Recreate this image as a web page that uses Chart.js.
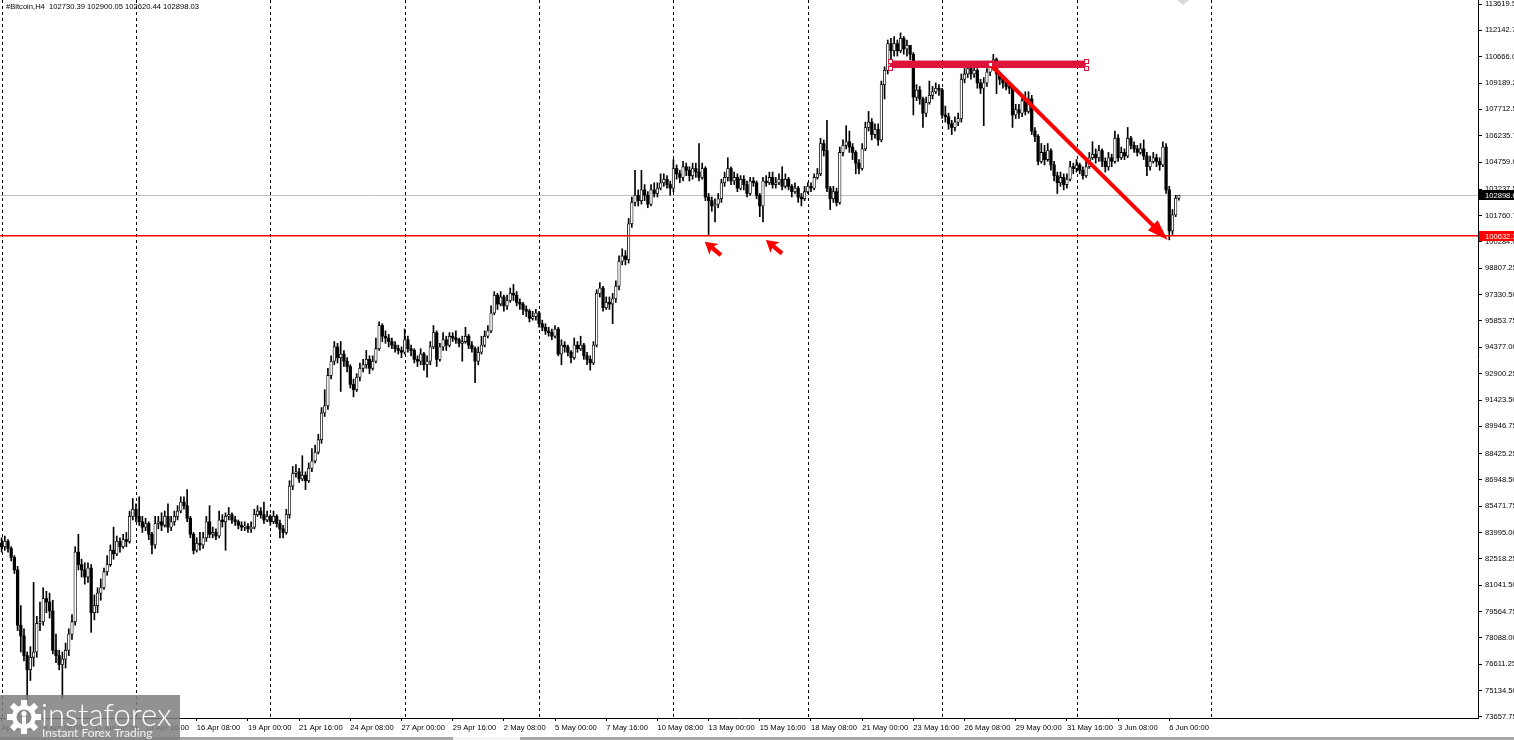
<!DOCTYPE html>
<html><head><meta charset="utf-8">
<script src="https://cdn.jsdelivr.net/npm/chart.js@4.4.1/dist/chart.umd.min.js"></script>
<style>html,body{margin:0;padding:0;background:#fff;overflow:hidden}canvas{display:block}</style>
</head><body>
<canvas id="c" width="1514" height="740"></canvas>
<script>
// ---- data (H4 candles) ----
const symbolTitle = '#Bitcoin,H4';
const firstOpen = 83400;
const closes = [
83200,83500,83100,82600,81900,78800,78200,77100,76300,77000,
77300,78900,79000,80300,80100,79600,77400,77100,76600,76900,
77400,78300,79000,82900,82200,81900,81500,82000,79500,79900,
80600,80900,81800,82200,83000,82800,83500,83200,83600,83500,
84900,85300,84900,84600,84300,84500,83900,83300,84500,84600,
84400,84900,84300,84600,84900,85200,85700,85500,84800,83900,
83000,83400,83300,83700,84600,83900,84000,83800,84700,84600,
84900,85000,84700,84600,84400,84300,84350,84200,84300,85000,
85200,85000,84700,84900,84600,84900,84500,84200,84000,85000,
86600,87300,87400,87000,87200,86900,87600,88000,88500,89200,
90700,91100,92800,93600,94400,93800,94000,93600,93300,92300,
92000,92700,93200,93400,93700,93200,93600,94300,95600,95000,
94900,94700,94500,94300,94200,94100,94800,94300,94200,93700,
93600,94000,93400,93600,94400,95200,93700,94400,94800,94500,
95000,94900,94800,94600,94700,95000,94500,94300,93600,94100,
94500,95000,95300,96300,97300,96800,97200,96700,97000,97400,
97300,96900,96800,96500,96400,96000,96100,96300,95700,95500,
95300,95200,95000,95400,94000,94500,94400,94100,93800,94500,
94300,94500,93900,93700,93500,94500,97400,97700,96600,96900,
96800,97100,97800,99200,99500,99300,101300,102500,102900,102600,
103200,102900,102400,103200,103000,103300,103600,103800,103500,103300,
104400,104100,103900,104500,104300,104000,104400,104200,103900,104400,
102800,102600,102300,102400,102700,103600,103900,104400,103700,103900,
103300,103800,103500,103000,103700,103600,102900,102300,103700,103600,
103900,103500,103600,103800,103400,103800,103400,103100,103300,102800,
102700,103100,103400,103300,103900,104100,105800,105400,103300,102700,
103100,102500,105300,105700,105900,105600,105300,104700,104400,105500,
106700,107000,106300,106600,106000,109100,109900,111400,111000,111400,
111000,111700,111100,111300,110800,108400,108800,108300,107500,108100,
108500,108700,108900,108800,107400,107300,106900,106700,107000,107200,
109400,109700,110000,109700,109900,109200,108900,109200,109800,110100,
110500,109700,109400,109200,109000,108900,107400,107700,107500,108200,
107600,108300,106500,106200,104800,105300,104900,105400,104600,104000,
103600,103900,103500,103800,104500,104400,104600,104300,104000,104500,
105000,105200,105000,105400,104800,104500,105000,104800,106100,105000,
105300,105100,106100,105700,105500,105300,105500,105100,104500,104800,
105000,104800,104600,105600,103200,100900,101800,102730.39,102898.03
];
const highs = [
83700,83800,83600,83200,82700,82100,79900,78600,77300,77600,
81200,79300,80100,80900,80700,80600,80200,78300,77400,77300,
77800,78600,79400,83200,83900,82500,82300,82300,82200,80500,
80900,81400,82000,82700,83300,84300,83800,83700,83900,84000,
85200,85900,85600,86000,84900,84800,84600,84000,84900,84900,
85100,85200,85600,84900,85200,85500,86000,86000,86400,84900,
84000,83700,84000,84000,84900,85500,84300,84200,85200,85000,
85100,85400,85100,84900,84700,84600,84600,84500,84600,85300,
85500,85400,85700,85200,85000,85200,85000,84700,84400,85300,
86900,87700,87800,87600,88300,87400,87900,88700,88900,89500,
91000,92000,93200,93900,94700,94600,94700,94200,93800,93400,
92600,92900,93500,93700,94200,93900,93900,94900,95800,95700,
95300,95100,94900,94700,94500,94400,95400,95000,94500,94300,
93900,94300,94100,93900,94700,95600,95300,94600,95200,95000,
95200,95200,95300,94900,95000,95500,95100,94700,94400,94400,
95000,95300,95600,96700,97500,97400,97500,97300,97300,97700,
97900,97500,97100,96900,96700,96500,96400,96500,96400,95900,
95700,95500,95400,95600,95500,94800,94700,94500,94200,94900,
94700,95000,94600,94100,93900,94700,97600,98000,97800,97200,
97200,97400,98100,99500,99900,99800,101600,102800,104300,103200,
104300,103500,103100,103500,103600,103600,104100,104100,104000,103700,
104900,104600,104300,104800,104700,104500,104700,104700,105800,104700,
104500,103000,102800,102700,103000,103800,104200,105000,104500,104200,
104100,104000,104000,103700,103900,103900,103700,103000,103900,104000,
104200,104200,103900,104100,104500,104100,103900,103500,103600,103400,
103000,103400,103600,103600,104100,104400,106100,106000,107100,103400,
103400,103300,105600,106000,106800,106500,105800,105400,104900,105800,
107000,107600,107200,106900,106900,109300,110100,111600,111700,111800,
111600,112000,111800,111600,111300,110900,109100,109000,108400,108400,
109300,109000,109200,109100,108900,107900,107500,107100,107300,107500,
109700,110000,110300,110200,110400,110000,109400,109500,110000,110400,
110800,110600,109800,109600,109400,109200,109100,108000,108000,108500,
108700,108700,108500,106700,106300,105800,105700,105800,105500,104800,
104200,104200,104100,104100,104800,104700,104900,104700,104500,104800,
105300,105900,105500,105700,105500,105000,105300,105200,106500,106300,
105600,105500,106700,106200,105900,105700,105800,106000,105300,105100,
105300,105200,105000,105900,105800,103400,102100,102900,102900.05
];
const lows = [
82900,83000,82900,82400,81700,78500,77300,76800,74600,75700,
76500,77000,78500,78800,79500,79200,77200,76700,76300,74700,
76400,77100,78000,78800,81900,81500,81100,81200,78400,79100,
79500,80200,80800,81600,82100,82500,82700,82900,83100,83200,
83400,84700,84600,84400,84000,84100,83600,82800,83100,84200,
84100,84300,84000,84100,84400,84700,85100,85300,84600,83700,
82800,82900,83000,83100,83500,83700,83700,83600,83700,84300,
83000,84700,84500,84400,84200,84100,84100,84000,84000,84200,
84900,84800,84500,84600,84400,84500,84300,83700,83700,83900,
84800,86400,87100,86800,86900,86400,86800,87400,87900,88400,
89000,90500,90900,92600,93400,93500,91900,93300,93000,92100,
91600,91900,92500,93000,93200,92900,93100,93500,94200,94700,
94600,94400,94300,94100,94000,93800,94000,94100,93900,93500,
93300,93400,93100,92700,93400,94300,93300,93600,94200,94200,
94400,94700,94600,94400,93600,94600,94300,94100,92400,93400,
94000,94400,94900,95200,96200,96500,96700,96400,96500,96900,
97000,96700,96500,96200,96100,95800,95900,95900,95500,95300,
95100,95000,94800,94900,93900,93400,94100,93900,93500,93700,
94100,94200,93700,93400,93100,93400,94400,97200,96400,96500,
96500,95700,96900,97600,99000,99000,99100,101100,102300,102300,
102400,102600,102200,102300,102800,102800,103200,103400,103300,102900,
103100,103800,103600,103700,104000,103700,103800,103900,103700,103800,
102600,100700,102000,101400,102200,102500,103400,103700,103500,103500,
103100,103200,103200,102800,102900,103400,102700,101700,101400,103400,
103500,103300,103300,103500,103200,103300,103200,102800,103000,102500,
102300,102600,103000,103100,103200,103800,104000,105100,103100,102100,
102500,102300,102400,105100,105500,105300,104900,104100,104100,104300,
105400,106500,106000,106100,105700,105900,108300,109700,110400,110700,
110700,110900,110800,110700,110500,107400,108200,108000,106700,107300,
108000,108300,108600,108500,107200,107000,106600,106300,106500,106800,
107000,109200,109500,109400,109500,108900,108600,106800,109000,109600,
109900,108600,109100,108900,108800,108600,106700,107200,107200,107300,
107400,107500,106300,105900,104600,104700,104600,104800,104300,103700,
103000,103400,103200,103300,103700,104100,104200,104100,103800,103900,
104400,104900,104700,104800,104500,104200,104300,104500,104700,104800,
104900,104900,105000,105500,105300,105100,105200,104900,104000,104300,
104700,104500,104300,104500,103000,100400,100700,101700,102620.44
];
const xTickIdx = [0,13,29,45,61,77,93,109,125,141,157,173,189,205,221,237,253,269,285,301,317,333,349,365];
const xTickText = ["Apr 2025","8 Apr 08:00","11 Apr 00:00","13 Apr 16:00","16 Apr 08:00","19 Apr 00:00","21 Apr 16:00","24 Apr 08:00","27 Apr 00:00","29 Apr 16:00","2 May 08:00","5 May 00:00","7 May 16:00","10 May 08:00","13 May 00:00","15 May 16:00","18 May 08:00","21 May 00:00","23 May 16:00","26 May 08:00","29 May 00:00","31 May 16:00","3 Jun 08:00","6 Jun 00:00"];
const yTickVals = [113619.5,112142.75,110666,109189.25,107712.5,106235.75,104759,103237.5,101760.75,100284,98807.25,97330.5,95853.75,94377,92900.25,91423.5,89946.75,88425.25,86948.5,85471.75,83995,82518.25,81041.5,79564.75,78088,76611.25,75134.5,73657.75];
const yTickText = ["113619.50","112142.75","110666.00","109189.25","107712.50","106235.75","104759.00","103237.50","101760.75","100284.00","98807.25","97330.50","95853.75","94377.00","92900.25","91423.50","89946.75","88425.25","86948.50","85471.75","83995.00","82518.25","81041.50","79564.75","78088.00","76611.25","75134.50","73657.75"];
const gridIdx = [0,42,84,126,168,210,252,294,336,378];
const bidPrice = 102898.03;
const supportPrice = 100632.3;
const supportText = "100632.30";
const bidText = "102898.03";
// drawn objects (anchored to bar index / price)
const zoneRect = {i0: 277.6, i1: 338.9, pTop: 110450, pBot: 110030};
const trendArrow = {i0: 308.9, p0: 110257, i1: 364.5, p1: 100392};
const pointerMarks = [{i: 219.8, p: 100300}, {i: 238.9, p: 100390}];

// ---- chart build ----
const SLOTS = 462;
const t0 = Date.UTC(2025, 3, 6, 4);
const MON = ['Jan','Feb','Mar','Apr','May','Jun','Jul','Aug','Sep','Oct','Nov','Dec'];
const categories = Array.from({length: SLOTS}, (_, i) => {
  const d = new Date(t0 + i * 4 * 3600000);
  return d.getUTCDate() + ' ' + MON[d.getUTCMonth()] + ' ' + String(d.getUTCHours()).padStart(2,'0') + ':00';
});
const opens = closes.map((c, i) => i === 0 ? firstOpen : closes[i - 1]);
const nBars = closes.length;
const bodyData = categories.map((_, i) => i < nBars ? [opens[i], closes[i]] : null);
const wickData = categories.map((_, i) => i < nBars ? [Math.min(lows[i], opens[i], closes[i]), Math.max(highs[i], opens[i], closes[i])] : null);
const bodyFill = categories.map((_, i) => i < nBars && closes[i] >= opens[i] ? '#ffffff' : '#000000');
const bodyBorder = categories.map((_, i) => i < nBars && closes[i] >= opens[i] ? 0.8 : 0);

const FONT = {family: 'Liberation Sans', size: 7.6};

const overlay = {
  id: 'overlay',
  beforeDatasetsDraw(chart) {
    const {ctx, chartArea: a, scales: {x, y}} = chart;
    ctx.save();
    ctx.strokeStyle = '#000'; ctx.lineWidth = 1; ctx.setLineDash([3, 3]);
    gridIdx.forEach(i => {
      const px = Math.round(x.getPixelForValue(i)) + 0.5;
      ctx.beginPath(); ctx.moveTo(px, a.top); ctx.lineTo(px, a.bottom); ctx.stroke();
    });
    ctx.setLineDash([]);
    const by = Math.round(y.getPixelForValue(bidPrice)) + 0.5;
    ctx.strokeStyle = '#c0c0c0';
    ctx.beginPath(); ctx.moveTo(a.left, by); ctx.lineTo(a.right, by); ctx.stroke();
    ctx.restore();
  },
  afterDatasetsDraw(chart) {
    const {ctx, chartArea: a, scales: {x, y}} = chart;
    ctx.save();
    ctx.beginPath(); ctx.rect(a.left, a.top, a.right - a.left, a.bottom - a.top); ctx.clip();
    // support line
    const sy = y.getPixelForValue(supportPrice);
    ctx.strokeStyle = '#ff0000'; ctx.lineWidth = 1.6;
    ctx.beginPath(); ctx.moveTo(a.left, sy); ctx.lineTo(a.right, sy); ctx.stroke();
    // zone rectangle
    const rx0 = x.getPixelForValue(zoneRect.i0), rx1 = x.getPixelForValue(zoneRect.i1);
    const ry0 = y.getPixelForValue(zoneRect.pTop), ry1 = y.getPixelForValue(zoneRect.pBot);
    ctx.fillStyle = '#dc143c';
    ctx.fillRect(rx0, ry0, rx1 - rx0, ry1 - ry0);
    ctx.fillStyle = '#fff'; ctx.strokeStyle = '#dc143c'; ctx.lineWidth = 1;
    [[rx0, ry0], [rx0, ry1], [rx1, ry0], [rx1, ry1]].forEach(([hx, hy]) => {
      ctx.fillRect(Math.round(hx) - 1.5, Math.round(hy) - 1.5, 4, 4);
      ctx.strokeRect(Math.round(hx) - 1.5, Math.round(hy) - 1.5, 4, 4);
    });
    // trend arrow
    const x0 = x.getPixelForValue(trendArrow.i0), y0 = y.getPixelForValue(trendArrow.p0);
    const x1 = x.getPixelForValue(trendArrow.i1), y1 = y.getPixelForValue(trendArrow.p1);
    const ang = Math.atan2(y1 - y0, x1 - x0), L = 21, W = 7;
    const bx = x1 - L * Math.cos(ang), bY = y1 - L * Math.sin(ang);
    ctx.strokeStyle = '#ff0000'; ctx.lineWidth = 4; ctx.lineCap = 'butt';
    ctx.beginPath(); ctx.moveTo(x0, y0); ctx.lineTo(bx + 2 * Math.cos(ang), bY + 2 * Math.sin(ang)); ctx.stroke();
    ctx.fillStyle = '#ff0000';
    ctx.beginPath(); ctx.moveTo(x1, y1);
    ctx.lineTo(bx + W * Math.sin(ang), bY - W * Math.cos(ang));
    ctx.lineTo(bx - W * Math.sin(ang), bY + W * Math.cos(ang));
    ctx.closePath(); ctx.fill();
    // start handle
    ctx.fillStyle = '#fff'; ctx.strokeStyle = '#dc143c'; ctx.lineWidth = 1;
    ctx.fillRect(Math.round(x0) - 1.5, Math.round(y0) - 1.5, 4, 4);
    ctx.strokeRect(Math.round(x0) - 1.5, Math.round(y0) - 1.5, 4, 4);
    // pointer marks (up-left arrows)
    pointerMarks.forEach(m => {
      const tx = x.getPixelForValue(m.i), ty = y.getPixelForValue(m.p);
      const dx = 0.768, dy = 0.640, nx = -0.640, ny = 0.768;
      const P = (a1, b1) => [tx + a1 * dx + b1 * nx, ty + a1 * dy + b1 * ny];
      ctx.fillStyle = '#ff0000';
      ctx.beginPath();
      let p = P(0, 0); ctx.moveTo(p[0], p[1]);
      p = P(12, 7); ctx.lineTo(p[0], p[1]);
      p = P(10, 2.2); ctx.lineTo(p[0], p[1]);
      p = P(21, 2.2); ctx.lineTo(p[0], p[1]);
      p = P(21, -2.2); ctx.lineTo(p[0], p[1]);
      p = P(10, -2.2); ctx.lineTo(p[0], p[1]);
      p = P(12, -7); ctx.lineTo(p[0], p[1]);
      ctx.closePath(); ctx.fill();
    });
    ctx.restore();
  },
  afterDraw(chart) {
    const {ctx, chartArea: a, scales: {y}} = chart;
    ctx.save();
    ctx.font = '7.6px "Liberation Sans"';
    ctx.textBaseline = 'middle';
    // price boxes on the right axis
    const boxes = [[bidPrice, bidText, '#000000'], [supportPrice, supportText, '#ff0000']];
    boxes.forEach(([p, txt, col]) => {
      const py = Math.round(y.getPixelForValue(p));
      ctx.fillStyle = col; ctx.fillRect(a.right + 1, py - 5, 40, 10);
      ctx.fillStyle = '#fff'; ctx.fillText(txt, a.right + 7, py + 0.5);
    });
    // header
    ctx.fillStyle = '#000'; ctx.textBaseline = 'alphabetic';
    const L = nBars - 1;
    ctx.fillText(symbolTitle + '  ' + opens[L].toFixed(2) + ' ' + highs[L].toFixed(2) + ' ' + lows[L].toFixed(2) + ' ' + closes[L].toFixed(2), 6, 9);
    // faint object marker at top
    ctx.fillStyle = '#d8d8d8';
    ctx.beginPath(); ctx.moveTo(1177, 0); ctx.lineTo(1189, 0); ctx.lineTo(1183, 5); ctx.closePath(); ctx.fill();
    // bottom strip
    ctx.fillStyle = '#a8a8a8'; ctx.fillRect(0, 737, 1514, 3);
    ctx.fillStyle = '#f4f4f4'; ctx.fillRect(453, 737, 67, 3);
    // logo
    ctx.fillStyle = 'rgba(128,128,128,0.86)'; ctx.fillRect(0, 695, 180, 45);
    const cx = 24, cy = 717;
    ctx.fillStyle = '#fff';
    for (let k = 0; k < 8; k++) {
      ctx.save(); ctx.translate(cx, cy); ctx.rotate(k * Math.PI / 4);
      ctx.fillRect(-3, -17, 6, 8); ctx.restore();
    }
    ctx.beginPath(); ctx.arc(cx, cy, 12, 0, Math.PI * 2); ctx.fill();
    ctx.fillStyle = '#8a8a8a';
    ctx.beginPath(); ctx.arc(cx, cy, 7.5, 0, Math.PI * 2); ctx.fill();
    ctx.fillStyle = '#fff';
    ctx.beginPath(); ctx.arc(cx, cy - 3.5, 2.6, 0, Math.PI * 2); ctx.fill();
    ctx.fillRect(cx - 2, cy - 0.5, 4, 10);
    ctx.font = '300 31px Lato';
    ctx.fillText('instaforex', 41, 726);
    ctx.font = '12px Lato';
    ctx.fillStyle = '#f0f0f0';
    ctx.fillText('Instant Forex Trading', 42, 737);
    ctx.restore();
  }
};

new Chart(document.getElementById('c'), {
  type: 'bar',
  data: {
    labels: categories,
    datasets: [
      {label: 'body', data: bodyData, backgroundColor: bodyFill, borderColor: '#000', borderWidth: bodyBorder,
       borderSkipped: false, barThickness: 2.6, grouped: false, order: 0},
      {label: 'wick', data: wickData, backgroundColor: '#000', borderWidth: 0,
       barThickness: 1, grouped: false, order: 1}
    ]
  },
  options: {
    responsive: false, animation: false, events: [],
    layout: {padding: 0},
    plugins: {legend: {display: false}, tooltip: {enabled: false}},
    scales: {
      x: {
        type: 'category', offset: true,
        afterBuildTicks: s => { s.ticks = xTickIdx.map(v => ({value: v})); },
        afterFit: s => { s.height = 22; s.paddingLeft = 0; s.paddingRight = 0; },
        ticks: {font: FONT, color: '#000', align: 'start', maxRotation: 0, minRotation: 0, autoSkip: false, padding: 2,
                callback: (v, i) => xTickText[i]},
        grid: {drawOnChartArea: false, drawTicks: true, tickLength: 3, color: '#000', offset: false},
        border: {display: true, color: '#000', width: 1}
      },
      y: {
        type: 'linear', position: 'right', min: 73600, max: 113844,
        afterBuildTicks: s => { s.ticks = yTickVals.map(v => ({value: v})); },
        afterFit: s => { s.width = 36; s.paddingTop = 0; s.paddingBottom = 0; },
        ticks: {font: FONT, color: '#000', autoSkip: false, padding: 3,
                callback: (v, i) => yTickText[i]},
        grid: {drawOnChartArea: false, drawTicks: true, tickLength: 4, color: '#000'},
        border: {display: true, color: '#000', width: 1}
      }
    }
  },
  plugins: [overlay]
});
</script>
</body></html>
